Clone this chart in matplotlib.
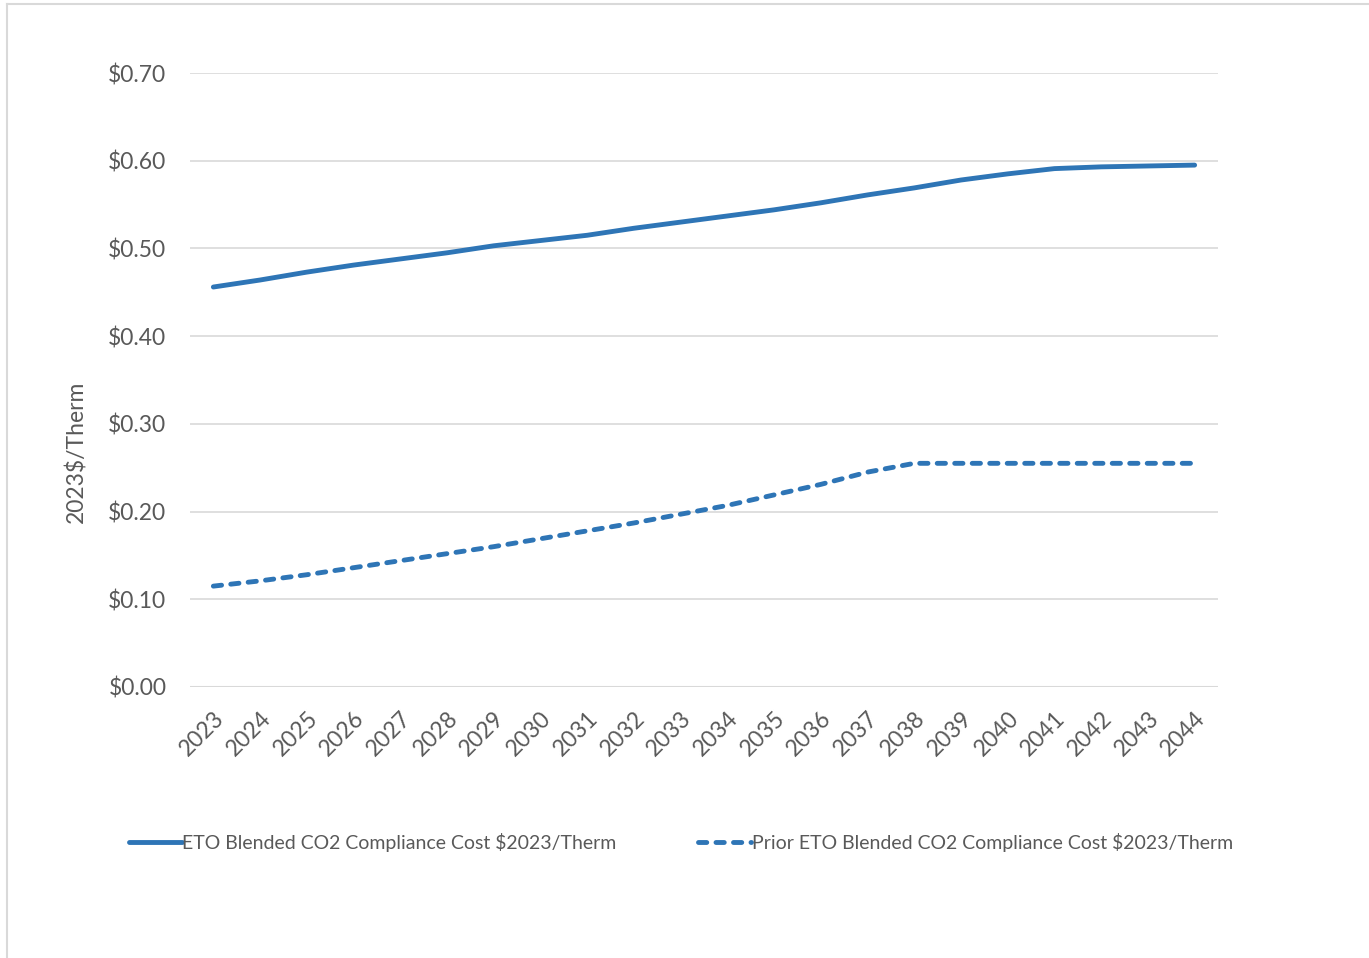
import matplotlib.pyplot as plt
from matplotlib.lines import Line2D

years = [str(y) for y in range(2023, 2045)]
eto_cost = [0.456, 0.464, 0.473, 0.481, 0.488, 0.495, 0.503, 0.509, 0.515, 0.523, 0.530,
            0.537, 0.544, 0.552, 0.561, 0.569, 0.578, 0.585, 0.591, 0.593, 0.594, 0.595]
prior_cost = [0.115, 0.121, 0.128, 0.136, 0.144, 0.152, 0.160, 0.169, 0.178, 0.187, 0.197,
              0.207, 0.219, 0.231, 0.245, 0.255, 0.255, 0.255, 0.255, 0.255, 0.255, 0.255]
y_ticks = [0.0, 0.1, 0.2, 0.3, 0.4, 0.5, 0.6, 0.7]

plt.rcParams['font.family'] = ['Lato', 'DejaVu Sans']
text_color = '#595959'
line_color = '#2e75b6'

fig = plt.figure(figsize=(13.69, 9.58), dpi=100)
ax = fig.add_axes([190 / 1369, 1 - 687 / 958, (1218 - 190) / 1369, (687 - 73) / 958])

x = list(range(len(years)))
ax.plot(x, eto_cost, color=line_color, lw=3.5, solid_capstyle='round',
        label='ETO Blended CO2 Compliance Cost $2023/Therm')
ax.plot(x, prior_cost, color=line_color, lw=3.5, ls=(0, (1.7, 1.9)), dash_capstyle='round',
        label='Prior ETO Blended CO2 Compliance Cost $2023/Therm')

ax.set_xlim(-0.5, len(years) - 0.5)
ax.set_ylim(0, 0.7)
ax.set_yticks(y_ticks)
ax.set_yticklabels([f'${v:.2f}' for v in y_ticks])
ax.set_xticks(x)
ax.set_xticklabels(years, rotation=45, ha='right', rotation_mode='anchor')
ax.tick_params(axis='y', length=0, pad=17, labelsize=16.5, labelcolor=text_color)
ax.tick_params(axis='x', length=0, pad=15, labelsize=16.5, labelcolor=text_color)
ax.grid(axis='y', color='#d9d9d9', lw=1.2)
ax.set_axisbelow(True)
for s in ax.spines.values():
    s.set_visible(False)
ax.axhline(0, color='#d9d9d9', lw=1.5, zorder=1)

fig.text(76 / 1369, 1 - 452 / 958, '2023$/Therm', rotation=90, ha='center', va='center',
         fontsize=16.5, color=text_color)

leg = fig.legend(loc='center', bbox_to_anchor=(681 / 1369, 1 - 842 / 958), ncol=2,
                 frameon=False, fontsize=14, handlelength=2.7, handletextpad=0.05,
                 columnspacing=4.2)
for t in leg.get_texts():
    t.set_color(text_color)

# chart area border (top and left only visible)
fig.add_artist(Line2D([7 / 1369, 7 / 1369], [0, 1 - 4 / 958], color='#d9d9d9', lw=1.5))
fig.add_artist(Line2D([7 / 1369, 1], [1 - 4 / 958, 1 - 4 / 958], color='#d9d9d9', lw=1.5))

fig.savefig('out.png', dpi=100)
